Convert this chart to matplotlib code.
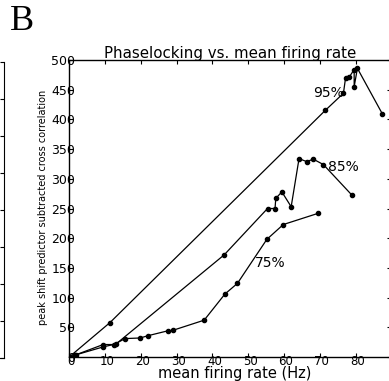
import matplotlib
matplotlib.use('Agg')
import matplotlib.pyplot as plt
from matplotlib import font_manager
from matplotlib.transforms import ScaledTranslation

# 95% curve
x95 = [0, 11.4, 71.5, 76.6, 77.2, 78.2, 79.6, 79.6, 80.5, 87.5]
y95 = [0, 58, 415, 444, 470, 471, 484, 455, 486, 409]

# 85% curve
x85 = [0, 1.5, 9.5, 13.1, 43.3, 55.4, 57.5, 57.7, 59.4, 62.0, 64.2, 66.3, 68.2, 71.0, 78.9]
y85 = [0, 3, 17, 22, 172, 250, 250, 267, 278, 253, 334, 329, 333, 324, 273]

# 75% curve
x75 = [0, 2, 9.5, 12.5, 15.6, 19.8, 22.1, 27.5, 29, 37.7, 43.5, 47, 55.2, 59.8, 69.6]
y75 = [0, 4, 21, 21, 31, 32, 36, 44, 45, 62, 106, 124, 198, 223, 242]

curve_labels = ['95%', '85%', '75%']
label_pos = [(68.1, 444), (72.2, 320), (52, 158)]

xticks = [0, 10, 20, 30, 40, 50, 60, 70, 80, 90]
xticklabels = ['0', '10', '20', '30', '40', '50', '60', '70', '80', '']
yticks = [0, 50, 100, 150, 200, 250, 300, 350, 400, 450, 500]


def pick_font(names):
    for n in names:
        try:
            font_manager.findfont(n, fallback_to_default=False)
            return n
        except Exception:
            pass
    return 'DejaVu Sans'


narrow = pick_font(['Liberation Sans Narrow'])
ylab_size = 8.5 if narrow == 'Liberation Sans Narrow' else 7

plt.rcParams['font.family'] = 'DejaVu Sans'

W, H = 389, 381
fig = plt.figure(figsize=(W / 100, H / 100), dpi=100)

# main axes (right spine falls just outside the picture)
ax = fig.add_axes([69.2 / W, (H - 357) / H, (391.4 - 69.2) / W, (357 - 60) / H])
for xs, ys in [(x95, y95), (x85, y85), (x75, y75)]:
    ax.plot(xs, ys, '-', color='black', lw=0.9, marker='o', ms=3)

for txt, (tx, ty) in zip(curve_labels, label_pos):
    ax.text(tx, ty, txt, fontsize=10, ha='left', va='center')

ax.set_xlim(0, 90)
ax.set_ylim(0, 500)
ax.set_xticks(xticks)
ax.set_xticklabels(xticklabels)
ax.set_yticks(yticks)
ax.tick_params(direction='in', length=3, width=0.8, labelsize=9,
               top=True, right=True)
ax.tick_params(axis='y', pad=-4.5)
ax.tick_params(axis='x', pad=-1.5, labelsize=8.5)
# printed labels sit a little right of their ticks
shift = ScaledTranslation(2 / 100, 0, fig.dpi_scale_trans)
for lab in ax.get_xticklabels():
    lab.set_transform(lab.get_transform() + shift)
for s in ax.spines.values():
    s.set_linewidth(1.0)

ax.set_title('Phaselocking vs. mean firing rate', fontsize=10.8, pad=1.5)
ax.set_xlabel('mean firing rate (Hz)', fontsize=10.5)
ax.xaxis.set_label_coords(0.513, -0.03)
ax.set_ylabel("peak shift predictor subtracted cross correlation",
              fontsize=ylab_size, family=narrow)
ax.yaxis.set_label_coords(-0.066, 0.505)

# edge of the neighbouring panel on the left
ax2 = fig.add_axes([-0.2, (H - 358) / H, 0.2 + 4 / W, (358 - 62) / H])
ax2.set_xlim(0, 1)
ax2.set_ylim(0, 8)
ax2.set_yticks(range(9))
ax2.set_xticks([])
ax2.yaxis.tick_right()
ax2.tick_params(axis='y', direction='in', length=3, width=0.8, labelright=False)
ax2.spines['left'].set_visible(False)
ax2.spines['top'].set_visible(False)
ax2.patch.set_visible(False)

fig.text(10 / W, 1 - 30 / H, 'B', fontsize=26, family='Liberation Serif',
         ha='left', va='baseline')

plt.savefig('out.png', dpi=100)
